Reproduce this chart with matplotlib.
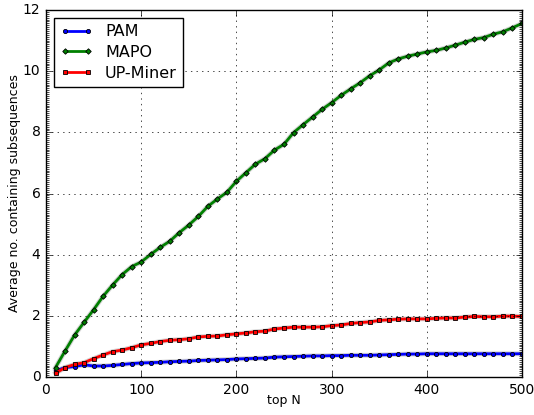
import matplotlib
matplotlib.use('Agg')
import matplotlib.pyplot as plt
from matplotlib.ticker import MultipleLocator

# data
top_n = list(range(10, 510, 10))

pam = [0.20, 0.31, 0.34, 0.40, 0.36, 0.36, 0.38, 0.41, 0.44, 0.46,
       0.47, 0.48, 0.50, 0.51, 0.52, 0.54, 0.55, 0.56, 0.57, 0.59,
       0.60, 0.61, 0.62, 0.65, 0.66, 0.67, 0.68, 0.69, 0.69, 0.70,
       0.70, 0.71, 0.71, 0.71, 0.72, 0.73, 0.74, 0.75, 0.75, 0.76,
       0.76, 0.76, 0.76, 0.76, 0.76, 0.76, 0.76, 0.76, 0.76, 0.76]

mapo = [0.31, 0.85, 1.37, 1.79, 2.20, 2.64, 3.01, 3.35, 3.61, 3.76,
        4.01, 4.24, 4.44, 4.72, 4.97, 5.25, 5.58, 5.82, 6.04, 6.40,
        6.68, 6.96, 7.14, 7.42, 7.61, 7.99, 8.25, 8.50, 8.75, 8.97,
        9.21, 9.42, 9.62, 9.85, 10.04, 10.27, 10.40, 10.49, 10.56, 10.63,
        10.68, 10.76, 10.85, 10.95, 11.04, 11.10, 11.21, 11.29, 11.42, 11.56]

upminer = [0.12, 0.31, 0.41, 0.47, 0.60, 0.72, 0.83, 0.88, 0.96, 1.05,
           1.10, 1.16, 1.20, 1.22, 1.25, 1.31, 1.33, 1.34, 1.38, 1.41,
           1.44, 1.48, 1.50, 1.57, 1.60, 1.63, 1.63, 1.63, 1.64, 1.68,
           1.70, 1.75, 1.78, 1.80, 1.85, 1.87, 1.89, 1.90, 1.90, 1.90,
           1.92, 1.93, 1.93, 1.96, 1.98, 1.97, 1.97, 1.99, 1.99, 1.98]

plt.style.use('classic')
plt.rcParams['font.size'] = 10

fig = plt.figure(figsize=(5.34, 4.15), dpi=100, facecolor='white')
ax = fig.add_axes([46 / 534, 1 - 377 / 415, 476 / 534, 367 / 415])

# soft grey halo under the lines, like the original rendering
for ys in (pam, mapo, upminer):
    ax.plot(top_n, ys, '-', color='#aaaaaa', lw=3.5, alpha=0.5)

ax.plot(top_n, pam, 'b-o', lw=2, ms=3, mec='black', mew=0.6, label='PAM')
ax.plot(top_n, mapo, 'g-D', lw=2, ms=2.8, mec='black', mew=0.6, label='MAPO')
ax.plot(top_n, upminer, 'r-s', lw=2, ms=2.8, mec='black', mew=0.6, label='UP-Miner')

ax.set_xlim(0, 500)
ax.set_ylim(0, 12)
ax.yaxis.set_minor_locator(MultipleLocator(0.0625))
ax.tick_params(which='minor', length=2)
ax.tick_params(which='major', length=4, labelsize=10)
ax.grid(True)
ax.set_xlabel('top N', fontsize=9)
ax.set_ylabel('Average no. containing subsequences', fontsize=9)
ax.xaxis.set_label_coords(0.5, -0.045)
ax.yaxis.set_label_coords(-0.052, 0.5)

handles = ax.get_lines()[3:]
leg = ax.legend(handles=handles, loc='upper left', fontsize=11.5, handlelength=2.0,
                numpoints=2, borderaxespad=0.5, labelspacing=0.35)

fig.savefig('out.png', dpi=100, facecolor='white')
